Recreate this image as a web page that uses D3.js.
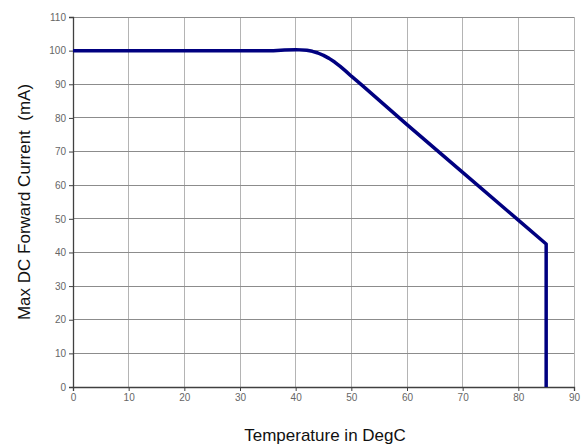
<!DOCTYPE html>
<html>
<head>
<meta charset="utf-8">
<script src="https://cdn.jsdelivr.net/npm/d3@7"></script>
<style>
  body { margin: 0; background: #fff; }
  svg { display: block; font-family: "Liberation Sans", Arial, sans-serif; }
</style>
</head>
<body>
<svg id="chart" width="582" height="447"></svg>
<script>
// ------- data -------
var temps   = [0, 36, 38, 40, 42, 43, 44, 45, 46, 47, 48, 49, 50, 51, 52, 60, 70, 80, 85, 85];
var current = [100, 100, 100.2, 100.3, 100.1, 99.8, 99.3, 98.6, 97.7, 96.6, 95.3, 93.9, 92.4, 91, 89.6, 78, 63.8, 49.6, 42.5, 0];
var xTicks = [0, 10, 20, 30, 40, 50, 60, 70, 80, 90];
var yTicks = [0, 10, 20, 30, 40, 50, 60, 70, 80, 90, 100, 110];

var margin = { left: 73, right: 8, top: 17, bottom: 60 };
var width = 582, height = 447;

var svg = d3.select("#chart");

var x = d3.scaleLinear().domain([0, 90]).range([margin.left, width - margin.right]);
var y = d3.scaleLinear().domain([0, 110]).range([height - margin.bottom, margin.top]);

// grid
svg.append("g")
    .selectAll("line")
    .data(xTicks)
    .enter()
    .append("line")
    .attr("x1", function (d) { return x(d); })
    .attr("x2", function (d) { return x(d); })
    .attr("y1", y(0))
    .attr("y2", y(110))
    .attr("stroke", "#b4b4b4")
    .attr("shape-rendering", "crispEdges");

svg.append("g")
    .selectAll("line")
    .data(yTicks)
    .enter()
    .append("line")
    .attr("x1", x(0))
    .attr("x2", x(90))
    .attr("y1", function (d) { return y(d); })
    .attr("y2", function (d) { return y(d); })
    .attr("stroke", "#8c8c8c")
    .attr("shape-rendering", "crispEdges");

// axes
var xAxis = svg.append("g")
    .attr("transform", "translate(0," + y(0) + ")")
    .call(d3.axisBottom(x).tickValues(xTicks).tickSize(4).tickPadding(3));

var yAxis = svg.append("g")
    .attr("transform", "translate(" + x(0) + ",0)")
    .call(d3.axisLeft(y).tickValues(yTicks).tickSize(4).tickPadding(3));

[xAxis, yAxis].forEach(function (ax) {
    ax.select(".domain").attr("stroke", "#404040").attr("stroke-width", 1.3);
    ax.selectAll(".tick line").attr("stroke", "#404040");
    ax.selectAll(".tick text")
        .attr("fill", "#666")
        .style("font-size", "10px")
        .style("font-family", "Liberation Sans, Arial, sans-serif");
});

// curve
var line = d3.line()
    .x(function (d) { return x(d[0]); })
    .y(function (d) { return y(d[1]); });

svg.append("path")
    .datum(d3.zip(temps, current))
    .attr("d", line)
    .attr("fill", "none")
    .attr("stroke", "#000080")
    .attr("stroke-width", 3.5)
    .attr("stroke-linejoin", "round");

// titles
svg.append("text")
    .attr("x", 325)
    .attr("y", 441)
    .attr("text-anchor", "middle")
    .style("font-size", "17px")
    .attr("fill", "#111")
    .text("Temperature in DegC");

svg.append("text")
    .attr("transform", "translate(30," + 202 + ")rotate(-90)")
    .attr("text-anchor", "middle")
    .style("font-size", "17px")
    .style("white-space", "pre")
    .attr("xml:space", "preserve")
    .attr("fill", "#111")
    .text("Max DC Forward Current  (mA)");
</script>
</body>
</html>
